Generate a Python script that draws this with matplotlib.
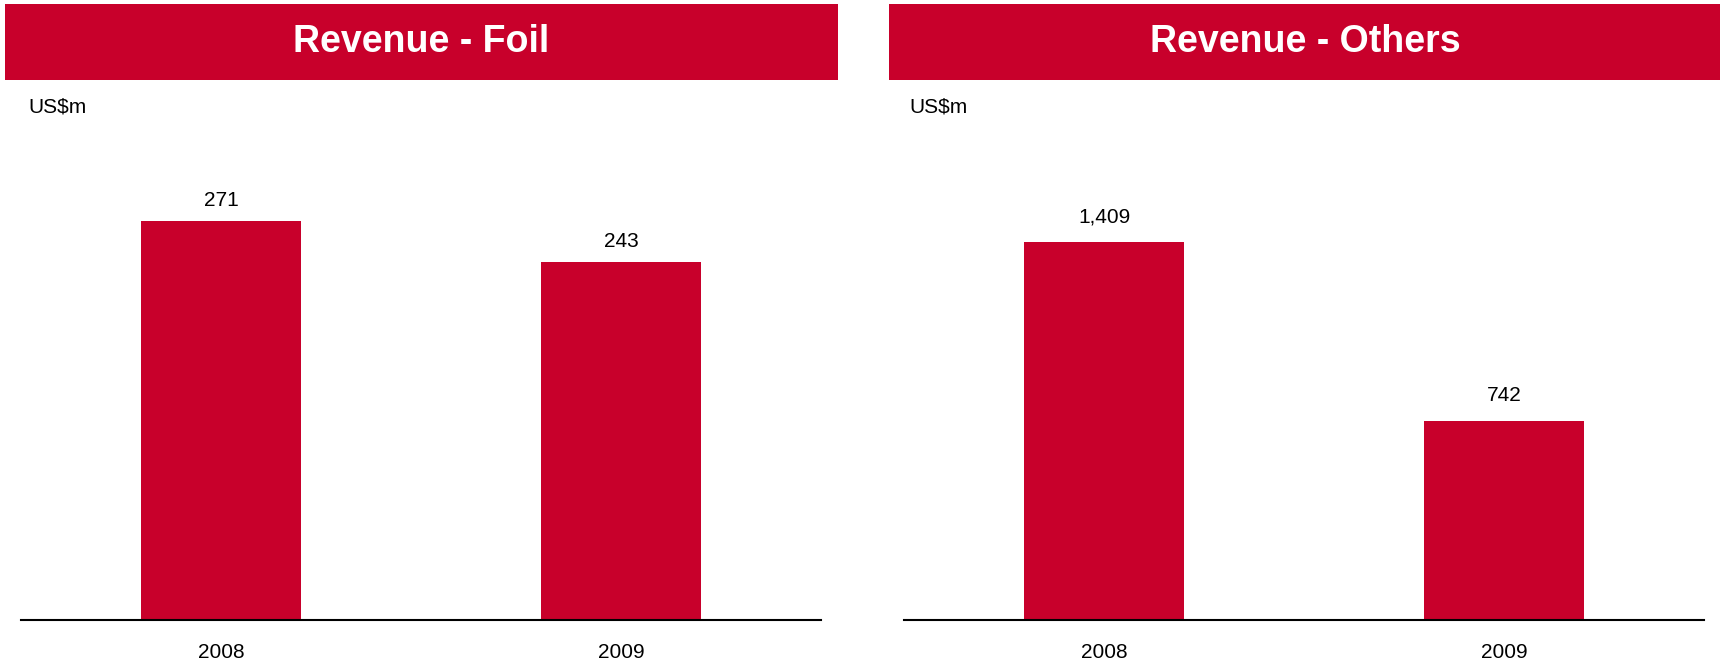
import matplotlib
matplotlib.use("Agg")
import matplotlib.pyplot as plt

plt.rcParams['font.family'] = ['Liberation Sans', 'DejaVu Sans']

# ---- data ----
years = ["2008", "2009"]
foil_revenue = [271, 243]
others_revenue = [1409, 742]
titles = ["Revenue - Foil", "Revenue - Others"]
unit_label = "US$m"

RED = "#C8002B"
W, H = 1720, 670
fig = plt.figure(figsize=(W / 100, H / 100), dpi=100)


def fx(px):
    return px / W


def fy(py):
    return 1 - py / H


panels = [
    dict(title=titles[0], values=foil_revenue, banner=(5, 838), axx=(21, 821),
         ymax=326, unit_x=28, lab_off=11),
    dict(title=titles[1], values=others_revenue, banner=(889, 1722), axx=(904, 1704),
         ymax=1789, unit_x=909, lab_off=14),
]

for p in panels:
    # banner
    b0, b1 = p["banner"]
    bax = fig.add_axes([fx(b0), fy(80), fx(b1 - b0), (80 - 4) / H])
    bax.set_facecolor(RED)
    bax.set_xticks([])
    bax.set_yticks([])
    for s in bax.spines.values():
        s.set_visible(False)
    bax.text(0.5, 0.5, p["title"], color="white", fontsize=27, fontweight="bold",
             ha="center", va="center", transform=bax.transAxes)

    # unit label
    fig.text(fx(p["unit_x"]), fy(112), unit_label, fontsize=15, color="black",
             ha="left", va="baseline")

    # bar axes
    a0, a1 = p["axx"]
    ax = fig.add_axes([fx(a0), fy(620), fx(a1 - a0), (620 - 140) / H])
    xs = list(range(len(years)))
    bars = ax.bar(xs, p["values"], width=0.4, color=RED)
    ax.set_xlim(-0.5, len(years) - 0.5)
    ax.set_ylim(0, p["ymax"])
    ax.set_xticks(xs)
    ax.set_xticklabels(years, fontsize=15)
    ax.tick_params(axis="x", length=0, pad=16.5)
    ax.set_yticks([])
    for side in ["top", "right", "left"]:
        ax.spines[side].set_visible(False)
    ax.spines["bottom"].set_linewidth(1.5)
    ax.spines["bottom"].set_color("black")
    for x, v in zip(xs, p["values"]):
        ax.annotate(f"{v:,}", xy=(x, v), xytext=(0, p["lab_off"]),
                    textcoords="offset points", ha="center", va="baseline",
                    fontsize=15, color="black")

fig.savefig("out.png", dpi=100, facecolor="white")
